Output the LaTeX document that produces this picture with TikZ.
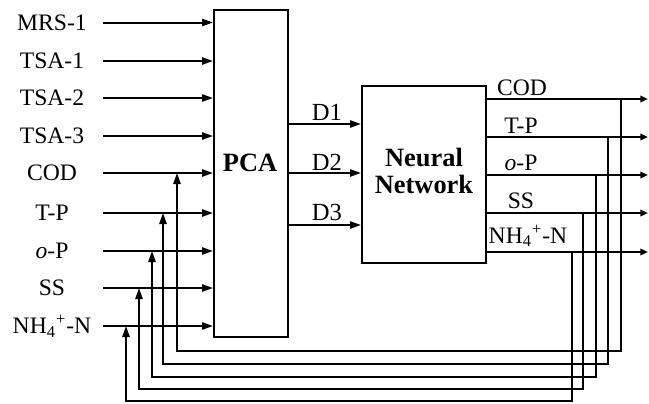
\documentclass[tikz,border=0pt]{standalone}
\usepackage{fontspec}
\setmainfont{Liberation Serif}
\usetikzlibrary{arrows.meta,calc}
\begin{document}
\begin{tikzpicture}[x=0.5pt,y=-0.5pt, line width=1pt,
  arr/.style={-{Triangle[length=5.5pt,width=3.6pt]}},
  oarr/.style={-{Triangle[length=3.8pt,width=3.2pt]}},
  lbl/.style={font=\fontsize{11.8pt}{13pt}\selectfont, inner sep=0pt, anchor=base},
  dlbl/.style={font=\fontsize{12.3pt}{13pt}\selectfont, inner sep=0pt, anchor=base},
  blk/.style={draw, inner sep=0pt},
  btxt/.style={font=\fontsize{13.2pt}{13.5pt}\selectfont\bfseries, align=center, inner sep=0pt}]
\useasboundingbox (0,0) rectangle (649,403);

% blocks
\node[blk, minimum width=37pt, minimum height=163.5pt] (pca) at (251,173.5) {};
\node[btxt] (pcat) at (250,163) {PCA};
\node[blk, minimum width=62pt, minimum height=88.5pt] (nn) at (424,174.5) {};
\node[btxt] (nnt) at (424,171) {Neural\\Network};

% inputs
\foreach \n/\t/\y in {1/{MRS-1}/22.5, 2/{TSA-1}/61, 3/{TSA-2}/98, 4/{TSA-3}/136, 5/{COD}/173,
  6/{T-P}/213, 7/{\textit{o}-P}/251, 8/{SS}/288, 9/{NH\textsubscript{4}\textsuperscript{+}-N}/326}{
  \node[lbl] (in\n) at (52,\y+7.5) {\t};
  \coordinate (s\n) at (103,\y);
  \draw[arr] (s\n) -- (s\n -| pca.west);
}

% PCA -> NN
\foreach \n/\y/\b in {1/124/120, 2/173/170, 3/225/220}{
  \coordinate (d\n) at (288,\y);
  \node[dlbl] (dl\n) at (327,\b) {D\n};
  \draw[arr] (d\n -| pca.east) -- (d\n -| nn.west);
}

% outputs and feedback
\foreach \n/\t/\lx/\b/\y/\xr/\yb/\xl/\k in {
  1/{COD}/522/95/99/621/351/177/5,
  2/{T-P}/521/133/137/608/364/163/6,
  3/{\textit{o}-P}/521/170/175/596/377/152/7,
  4/{SS}/521/208/213/583/389/139/8,
  5/{NH\textsubscript{4}\textsuperscript{+}-N}/528/243/252/572/401/126/9}{
  \node[lbl] (ol\n) at (\lx,\b) {\t};
  \coordinate (o\n) at (648,\y);
  \draw[oarr] (o\n -| nn.east) -- (o\n);
  \coordinate (r\n) at (\xr,\y);
  \coordinate (b\n) at (\xr,\yb);
  \coordinate (l\n) at (\xl,\yb);
  \draw[arr] (r\n) -- (b\n) -- (l\n) -- (l\n |- s\k);
}
\end{tikzpicture}
\end{document}
